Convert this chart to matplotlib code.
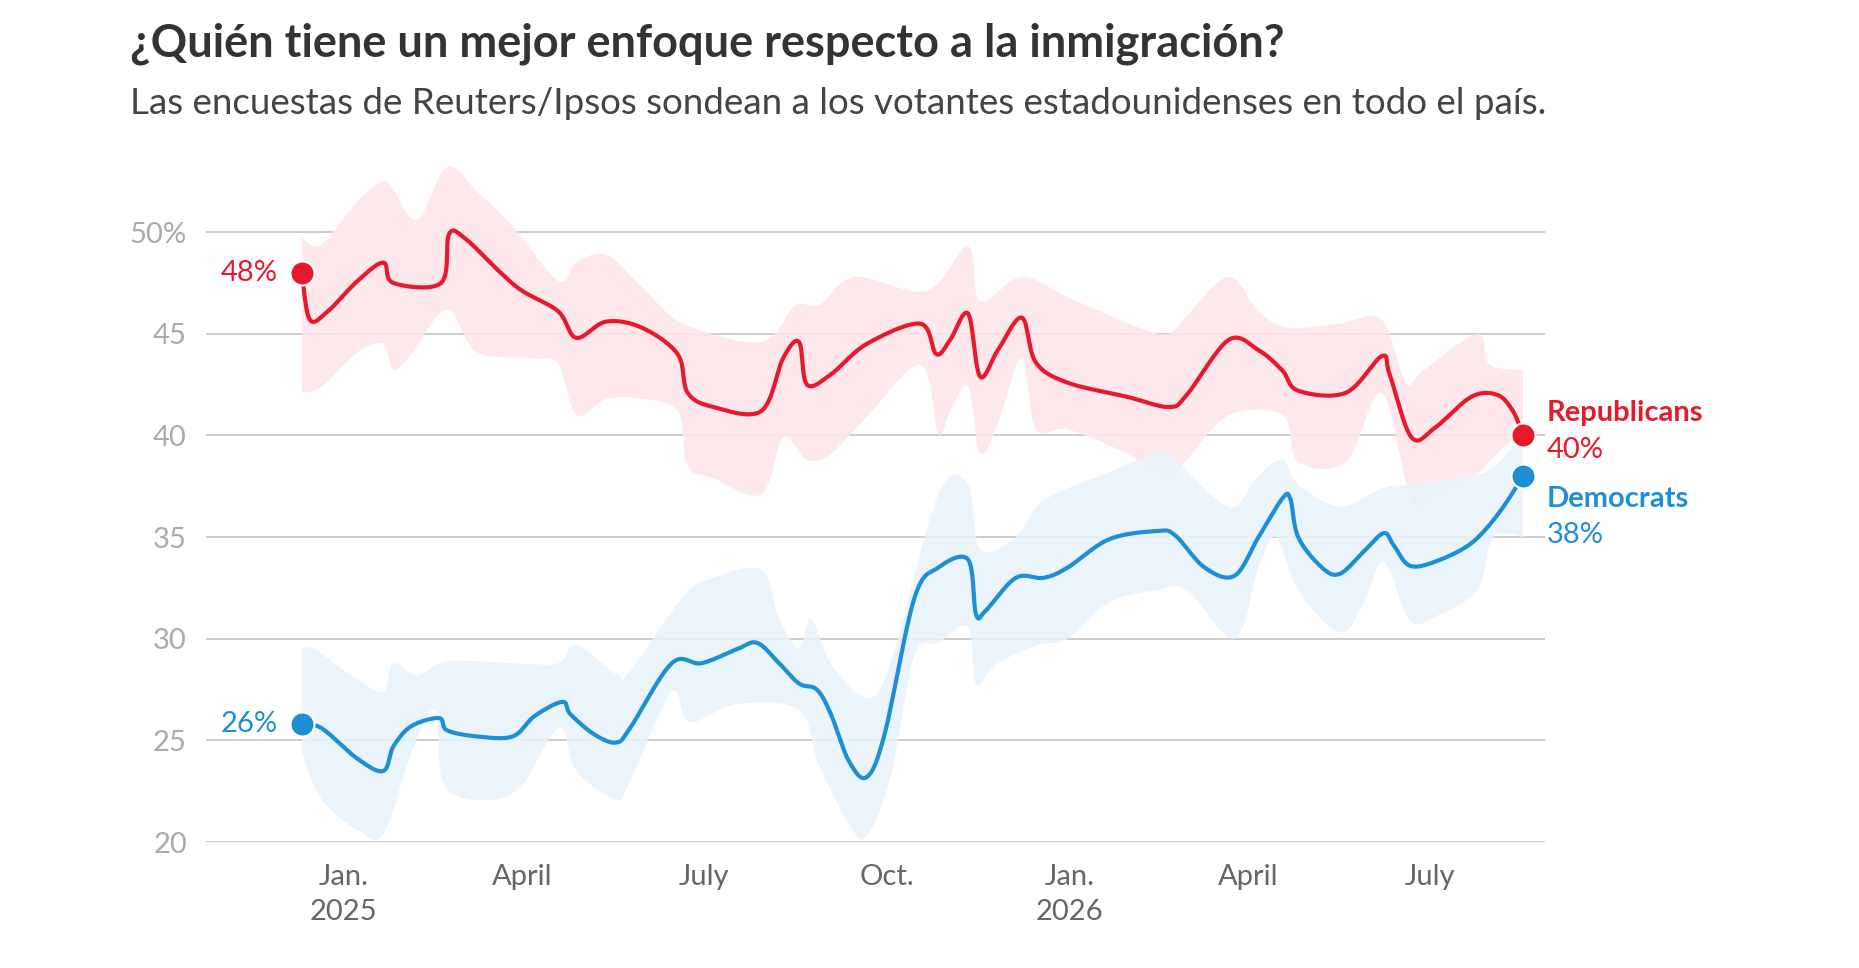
import matplotlib
matplotlib.use("Agg")
import matplotlib.pyplot as plt
import numpy as np

plt.rcParams['font.family'] = ['Lato', 'DejaVu Sans']

# days since 2025-01-01
rep_day = [-21,-17,-8,7,20,25,49,53,61,79,90,108,117,132,150,168,173,186,210,221,229,233,245,263,290,298,305,314,320,329,341,348,364,394,415,424,445,460,472,480,504,522,526,537,549,567,580,588,593]
rep_val = [48.0,45.7,46.1,47.6,48.5,47.5,47.5,49.9,49.7,48.0,47.1,46.1,44.8,45.6,45.3,44.0,42.1,41.4,41.2,43.8,44.6,42.5,43.0,44.5,45.5,44.0,44.7,46.0,42.9,44.2,45.8,43.6,42.6,41.9,41.4,42.0,44.7,44.2,43.2,42.2,42.1,43.9,43.0,39.9,40.4,41.9,42.0,41.2,40.0]
dem_day = [-21,-11,7,20,25,34,48,52,67,85,96,110,114,126,137,144,165,180,198,208,219,229,238,245,254,263,272,287,299,314,318,323,338,352,364,385,409,418,433,448,460,472,476,480,492,501,513,523,528,536,549,567,581,593]
dem_val = [25.8,25.6,24.1,23.5,24.7,25.7,26.1,25.5,25.2,25.2,26.2,26.9,26.3,25.3,24.9,25.6,28.8,28.8,29.5,29.8,28.8,27.8,27.5,26.3,24.0,23.2,25.3,32.0,33.5,33.9,31.2,31.4,33.0,33.0,33.5,34.9,35.3,35.1,33.5,33.1,35.0,36.9,36.9,35.0,33.5,33.2,34.3,35.2,34.6,33.6,33.8,34.7,36.2,38.0]

rep_hi_day = [-21,-11,7,20,25,37,52,67,85,108,117,132,150,171,210,227,239,257,293,314,320,341,364,400,415,424,445,460,475,501,522,534,543,570,576,593]
rep_hi_val = [49.7,49.4,51.5,52.5,52.1,50.6,53.2,52.0,50.3,47.6,48.5,48.9,47.3,45.5,44.6,46.4,46.4,47.8,47.1,49.3,46.6,47.8,46.8,45.3,45.0,45.9,47.8,46.1,45.3,45.5,45.7,42.6,43.2,45.0,43.5,43.2]
rep_lo_day = [-21,-11,7,20,25,34,52,67,96,108,117,132,150,168,173,186,210,221,233,245,263,290,299,305,314,320,329,341,348,364,394,415,424,445,472,480,504,522,537,549,567,580,593]
rep_lo_val = [42.1,42.4,44.1,44.5,43.2,44.0,46.2,44.1,43.8,43.5,41.0,41.8,41.8,41.2,38.5,37.9,37.1,39.9,38.8,39.1,40.9,43.5,40.1,41.2,42.4,39.1,40.6,43.8,40.3,40.3,39.1,37.8,38.8,41.0,41.0,38.7,38.7,42.1,36.8,37.1,37.9,39.1,40.3]
dem_hi_day = [-21,-15,7,20,25,37,52,85,108,117,138,144,171,186,210,219,229,235,245,263,275,299,314,320,338,352,385,409,418,436,448,460,472,480,501,522,537,567,579,593]
dem_hi_val = [29.5,29.5,28.0,27.4,28.8,28.2,28.9,28.8,28.8,29.7,28.2,28.4,32.1,33.0,33.4,31.0,29.5,31.0,28.8,27.1,28.8,37.1,37.6,34.4,35.0,36.8,38.2,39.1,38.8,37.1,36.5,38.0,38.8,37.6,36.5,37.4,37.6,38.0,38.5,40.0]
dem_lo_day = [-21,-11,7,20,34,46,52,85,108,117,137,144,165,174,198,229,239,254,263,275,287,299,314,318,329,349,364,385,409,424,448,460,469,480,501,513,523,536,549,570,578,593]
dem_lo_val = [24.4,22.1,20.6,20.4,24.4,26.5,22.6,22.4,25.6,23.5,22.1,23.0,27.4,25.9,26.8,26.5,23.8,20.9,20.3,23.2,29.2,29.8,30.6,27.8,28.8,29.7,30.0,31.8,32.4,32.4,30.0,33.5,35.0,32.4,30.3,31.8,33.8,30.9,31.1,32.4,35.0,35.0]

tick_days = [0, 90, 181, 273, 365, 455, 546]
tick_labels = ["Jan.\n2025", "April", "July", "Oct.", "Jan.\n2026", "April", "July"]
y_ticks = [20, 25, 30, 35, 40, 45, 50]
y_labels = ["20", "25", "30", "35", "40", "45", "50%"]

RED = "#e8192c"; BLUE = "#1e8fd5"
RED_F = "#fde7ea"; BLUE_F = "#e9f3fb"


def smooth(x, y, n=12):
    """Uniform Catmull-Rom through the given points."""
    x = np.asarray(x, float); y = np.asarray(y, float)
    P = np.column_stack([x, y])
    P = np.vstack([P[0], P, P[-1]])
    out = []
    t = np.linspace(0, 1, n, endpoint=False)[:, None]
    for i in range(1, len(P) - 2):
        p0, p1, p2, p3 = P[i-1], P[i], P[i+1], P[i+2]
        seg = 0.5 * ((2*p1) + (-p0 + p2)*t + (2*p0 - 5*p1 + 4*p2 - p3)*t**2 + (-p0 + 3*p1 - 3*p2 + p3)*t**3)
        out.append(seg)
    out.append(P[-2][None, :])
    out = np.vstack(out)
    return out[:, 0], out[:, 1]


fig = plt.figure(figsize=(18.59, 9.68), dpi=100)
ax = fig.add_axes([0.111, 0.13, 0.72, 0.71])

for hd, hv, ld, lv, col in [(rep_hi_day, rep_hi_val, rep_lo_day, rep_lo_val, RED_F),
                            (dem_hi_day, dem_hi_val, dem_lo_day, dem_lo_val, BLUE_F)]:
    hx, hy = smooth(hd, hv)
    lx, ly = smooth(ld, lv)
    ax.fill(np.concatenate([hx, lx[::-1]]), np.concatenate([hy, ly[::-1]]), color=col, lw=0, zorder=1, alpha=0.9)
for y in y_ticks:
    ax.axhline(y, color="#c8c8c8", lw=1.3, zorder=0.5)
for d, v, c in [(rep_day, rep_val, RED), (dem_day, dem_val, BLUE)]:
    sx, sy = smooth(d, v)
    ax.plot(sx, sy, color=c, lw=3, zorder=3, solid_joinstyle='round')
    ax.scatter([d[0], d[-1]], [v[0], v[-1]], s=300, color=c, zorder=4, edgecolors='white', linewidths=1.5)

fs = 21
ax.text(rep_day[0] - 12, rep_val[0], f"{rep_val[0]:.0f}%", color=RED, fontsize=fs, ha='right', va='center')
ax.text(dem_day[0] - 12, dem_val[0], f"{dem_val[0]:.0f}%", color=BLUE, fontsize=fs, ha='right', va='center')
ax.text(rep_day[-1] + 12, rep_val[-1] + 1.1, "Republicans", color=RED, fontsize=fs, fontweight='bold', ha='left', va='center')
ax.text(rep_day[-1] + 12, rep_val[-1] - 0.7, f"{rep_val[-1]:.0f}%", color=RED, fontsize=fs, ha='left', va='center')
ax.text(dem_day[-1] + 12, dem_val[-1] - 1.1, "Democrats", color=BLUE, fontsize=fs, fontweight='bold', ha='left', va='center')
ax.text(dem_day[-1] + 12, dem_val[-1] - 2.9, f"{dem_val[-1]:.0f}%", color=BLUE, fontsize=fs, ha='left', va='center')

ax.set_xlim(-69, 604)
ax.set_ylim(20, 53.8)
ax.set_xticks(tick_days)
ax.set_xticklabels(tick_labels, fontsize=fs, color="#666666", linespacing=1.4)
ax.set_yticks(y_ticks)
ax.set_yticklabels(y_labels, fontsize=fs, color="#aaaaaa")
ax.tick_params(length=0, pad=14)
ax.tick_params(axis='x', pad=16)
for s in ax.spines.values():
    s.set_visible(False)

fig.text(0.07, 0.955, "¿Quién tiene un mejor enfoque respecto a la inmigración?", fontsize=32.5, fontweight='bold', color="#333333", va='center')
fig.text(0.07, 0.893, "Las encuestas de Reuters/Ipsos sondean a los votantes estadounidenses en todo el país.", fontsize=26.5, color="#444444", va='center')

fig.savefig("out.png", dpi=100, facecolor='white')
